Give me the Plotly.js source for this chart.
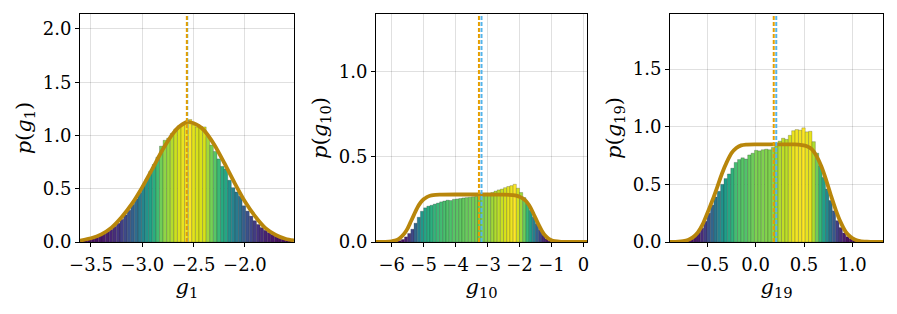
<!DOCTYPE html>
<html>
<head>
<meta charset="utf-8">
<script src="https://cdn.plot.ly/plotly-3.0.1.min.js"></script>
<style>html,body{margin:0;padding:0;background:#fff;}#chart{width:897px;height:314px;}</style>
</head>
<body>
<div id="chart"></div>
<script>
// ---------- Panel 1 : g1 ----------
const g1Centers = [-3.585,-3.55,-3.515,-3.48,-3.445,-3.41,-3.375,-3.34,-3.305,-3.27,-3.235,-3.2,-3.165,-3.13,-3.095,-3.06,-3.025,-2.99,-2.955,-2.92,-2.885,-2.85,-2.815,-2.78,-2.745,-2.71,-2.675,-2.64,-2.605,-2.57,-2.535,-2.5,-2.465,-2.43,-2.395,-2.36,-2.325,-2.29,-2.255,-2.22,-2.185,-2.15,-2.115,-2.08,-2.045,-2.01,-1.975,-1.94,-1.905,-1.87,-1.835,-1.8,-1.765,-1.73,-1.695,-1.66,-1.625,-1.59,-1.555];
const g1Heights = [0.015,0.021,0.030,0.036,0.047,0.060,0.076,0.095,0.118,0.146,0.176,0.213,0.255,0.298,0.352,0.405,0.463,0.527,0.592,0.662,0.728,0.796,0.90,0.955,0.975,1.02,1.06,1.09,1.115,1.135,1.15,1.10,1.08,1.085,1.08,0.99,0.91,0.85,0.78,0.71,0.685,0.58,0.51,0.47,0.43,0.34,0.29,0.243,0.20,0.165,0.135,0.11,0.088,0.07,0.054,0.043,0.033,0.025,0.018];
const g1FitX = [-3.607,-3.5,-3.4,-3.3,-3.2,-3.1,-3.0,-2.9,-2.8,-2.7,-2.65,-2.6,-2.56,-2.5,-2.45,-2.4,-2.3,-2.2,-2.1,-2.0,-1.9,-1.8,-1.7,-1.6,-1.522];
const g1FitY = [0.013,0.035,0.072,0.135,0.235,0.36,0.515,0.69,0.87,1.02,1.075,1.11,1.128,1.115,1.09,1.05,0.915,0.74,0.553,0.38,0.24,0.13,0.066,0.028,0.015];
const g1MeanOrange = -2.566;
const g1MeanBlue = -2.562;

// ---------- Panel 2 : g10 ----------
const g10Centers = [-5.85,-5.75,-5.65,-5.55,-5.45,-5.35,-5.25,-5.15,-5.05,-4.95,-4.85,-4.75,-4.65,-4.55,-4.45,-4.35,-4.25,-4.15,-4.05,-3.95,-3.85,-3.75,-3.65,-3.55,-3.45,-3.35,-3.25,-3.15,-3.05,-2.95,-2.85,-2.75,-2.65,-2.55,-2.45,-2.35,-2.25,-2.15,-2.05,-1.95,-1.85,-1.75,-1.65,-1.55,-1.45,-1.35,-1.25,-1.15,-1.05];
const g10Heights = [0.003,0.008,0.015,0.03,0.05,0.075,0.11,0.145,0.18,0.2,0.21,0.215,0.222,0.228,0.235,0.24,0.245,0.243,0.25,0.252,0.255,0.258,0.26,0.262,0.265,0.268,0.27,0.272,0.276,0.282,0.29,0.298,0.305,0.31,0.318,0.325,0.33,0.338,0.315,0.29,0.26,0.225,0.185,0.145,0.105,0.07,0.04,0.018,0.006];
const g10FitX = [-6.49,-6.2,-6.0,-5.9,-5.8,-5.7,-5.6,-5.5,-5.4,-5.3,-5.2,-5.1,-5.0,-4.9,-4.8,-4.7,-4.5,-4.0,-3.5,-3.0,-2.5,-2.2,-2.1,-2.0,-1.9,-1.8,-1.7,-1.6,-1.5,-1.4,-1.3,-1.2,-1.1,-1.0,-0.9,-0.7,-0.4,0.11];
const g10FitY = [0,0.001,0.004,0.008,0.015,0.03,0.05,0.08,0.12,0.16,0.2,0.23,0.25,0.263,0.271,0.275,0.277,0.278,0.278,0.278,0.277,0.275,0.272,0.265,0.255,0.24,0.215,0.18,0.14,0.1,0.065,0.038,0.02,0.01,0.005,0.001,0,0];
const g10MeanOrange = -3.27;
const g10MeanBlue = -3.19;

// ---------- Panel 3 : g19 ----------
const g19Centers = [-0.765,-0.73,-0.695,-0.66,-0.625,-0.59,-0.555,-0.52,-0.485,-0.45,-0.415,-0.38,-0.345,-0.31,-0.275,-0.24,-0.205,-0.17,-0.135,-0.1,-0.065,-0.03,0.005,0.04,0.075,0.11,0.145,0.18,0.215,0.25,0.285,0.32,0.355,0.39,0.425,0.46,0.495,0.53,0.565,0.6,0.635,0.67,0.705,0.74,0.775,0.81,0.845,0.88,0.915,0.95,0.985,1.02,1.055,1.09];
const g19Heights = [0.006,0.015,0.025,0.038,0.055,0.08,0.12,0.18,0.25,0.32,0.39,0.44,0.5,0.55,0.59,0.64,0.69,0.715,0.73,0.72,0.755,0.77,0.795,0.79,0.8,0.805,0.8,0.82,0.84,0.875,0.9,0.89,0.925,0.965,0.975,0.97,0.99,0.955,0.96,0.87,0.77,0.66,0.56,0.46,0.36,0.27,0.185,0.125,0.078,0.046,0.028,0.016,0.008,0.003];
const g19FitX = [-0.886,-0.8,-0.75,-0.7,-0.65,-0.6,-0.55,-0.5,-0.45,-0.4,-0.35,-0.3,-0.25,-0.2,-0.15,-0.1,0.0,0.2,0.4,0.48,0.53,0.58,0.63,0.68,0.73,0.78,0.83,0.88,0.93,0.98,1.03,1.08,1.15,1.25,1.317];
const g19FitY = [0,0.003,0.008,0.018,0.04,0.08,0.15,0.25,0.355,0.47,0.59,0.69,0.77,0.815,0.838,0.845,0.847,0.847,0.846,0.84,0.83,0.805,0.745,0.655,0.535,0.4,0.275,0.17,0.09,0.045,0.02,0.007,0.002,0,0];
const g19MeanOrange = 0.187;
const g19MeanBlue = 0.213;

// ---------- Axis ticks / labels ----------
const xTicks = [[-3.5,-3.0,-2.5,-2.0],[-6,-5,-4,-3,-2,-1,0],[-0.5,0.0,0.5,1.0]];
const yTicks = [[0.0,0.5,1.0,1.5,2.0],[0.0,0.5,1.0],[0.0,0.5,1.0,1.5]];
const xLabels = ['<i>g</i><sub>1</sub>','<i>g</i><sub>10</sub>','<i>g</i><sub>19</sub>'];
const yLabels = ['<i>p</i>(<i>g</i><sub>1</sub>)','<i>p</i>(<i>g</i><sub>10</sub>)','<i>p</i>(<i>g</i><sub>19</sub>)'];

// styling / layout (not data)
const xRanges = [[-3.607,-1.522],[-6.49,0.11],[-0.886,1.317]];
const yRanges = [[0,2.14],[0,1.335],[0,1.977]];
const xDomains = [[80/897,294/897],[376/897,587/897],[670/897,883/897]];
const yDomain = [1-242/314, 1-14/314];
const widths = [0.035,0.1,0.035];
const FIT = 'rgb(184,134,11)';
const ORANGE = '#E69F00';
const BLUE = '#56B4E9';
const FONT = 'DejaVu Serif';
const TICKSIZE = 18;
const TITLESIZE = 21;

const panels = [
  {c:g1Centers,h:g1Heights,fx:g1FitX,fy:g1FitY,mo:g1MeanOrange,mb:g1MeanBlue},
  {c:g10Centers,h:g10Heights,fx:g10FitX,fy:g10FitY,mo:g10MeanOrange,mb:g10MeanBlue},
  {c:g19Centers,h:g19Heights,fx:g19FitX,fy:g19FitY,mo:g19MeanOrange,mb:g19MeanBlue}
];

const traces = [];
const shapes = [];
const layout = {
  width:897, height:314,
  margin:{l:0,r:0,t:0,b:0},
  paper_bgcolor:'#fff', plot_bgcolor:'#fff',
  showlegend:false,
  bargap:0,
  font:{family:FONT, size:TICKSIZE, color:'#000'}
};

panels.forEach((p,i)=>{
  const n = i===0 ? '' : String(i+1);
  const xa = 'x'+n, ya = 'y'+n;
  const hmax = Math.max(...p.h);
  traces.push({
    type:'bar', x:p.c, y:p.h, width:widths[i], xaxis:xa, yaxis:ya,
    marker:{color:p.h, colorscale:'Viridis', cmin:0, cmax:hmax,
            line:{color:'rgba(40,40,40,0.4)', width:0.6}},
    hoverinfo:'skip'
  });
  traces.push({
    type:'scatter', mode:'lines', x:p.fx, y:p.fy, xaxis:xa, yaxis:ya,
    line:{color:FIT, width:3.8, shape:'spline', smoothing:0.6},
    hoverinfo:'skip'
  });
  shapes.push({type:'line', xref:xa, yref:ya+' domain', x0:p.mb, x1:p.mb, y0:0, y1:1,
               line:{color:BLUE, width:2, dash:'4px,2px'}});
  shapes.push({type:'line', xref:xa, yref:ya+' domain', x0:p.mo, x1:p.mo, y0:0, y1:1,
               line:{color:ORANGE, width:2, dash:'4px,2px'}});
  const axCommon = {
    showline:true, linecolor:'#000', linewidth:1, mirror:true,
    showgrid:true, gridcolor:'rgba(0,0,0,0.12)', gridwidth:1,
    zeroline:false, ticks:'outside', ticklen:4, tickcolor:'#000', tickwidth:1,
    tickfont:{family:FONT, size:TICKSIZE, color:'#000'}
  };
  layout['xaxis'+n] = Object.assign({}, axCommon, {
    domain:xDomains[i], anchor:ya, range:xRanges[i],
    tickmode:'array', tickvals:xTicks[i],
    ticktext:xTicks[i].map(v=> (i===1 ? String(v) : v.toFixed(1)).replace('-','\u2212')),
    ticklabelstandoff:2,
    title:{text:xLabels[i], font:{family:FONT,size:TITLESIZE,color:'#000'}, standoff:3}
  });
  layout['yaxis'+n] = Object.assign({}, axCommon, {
    domain:yDomain, anchor:xa, range:yRanges[i],
    tickmode:'array', tickvals:yTicks[i],
    ticktext:yTicks[i].map(v=>v.toFixed(1)),
    ticklabelstandoff:0,
    title:{text:yLabels[i], font:{family:FONT,size:TITLESIZE,color:'#000'}, standoff:5}
  });
});
layout.shapes = shapes;

Plotly.newPlot('chart', traces, layout, {staticPlot:true, displayModeBar:false});
</script>
</body>
</html>
